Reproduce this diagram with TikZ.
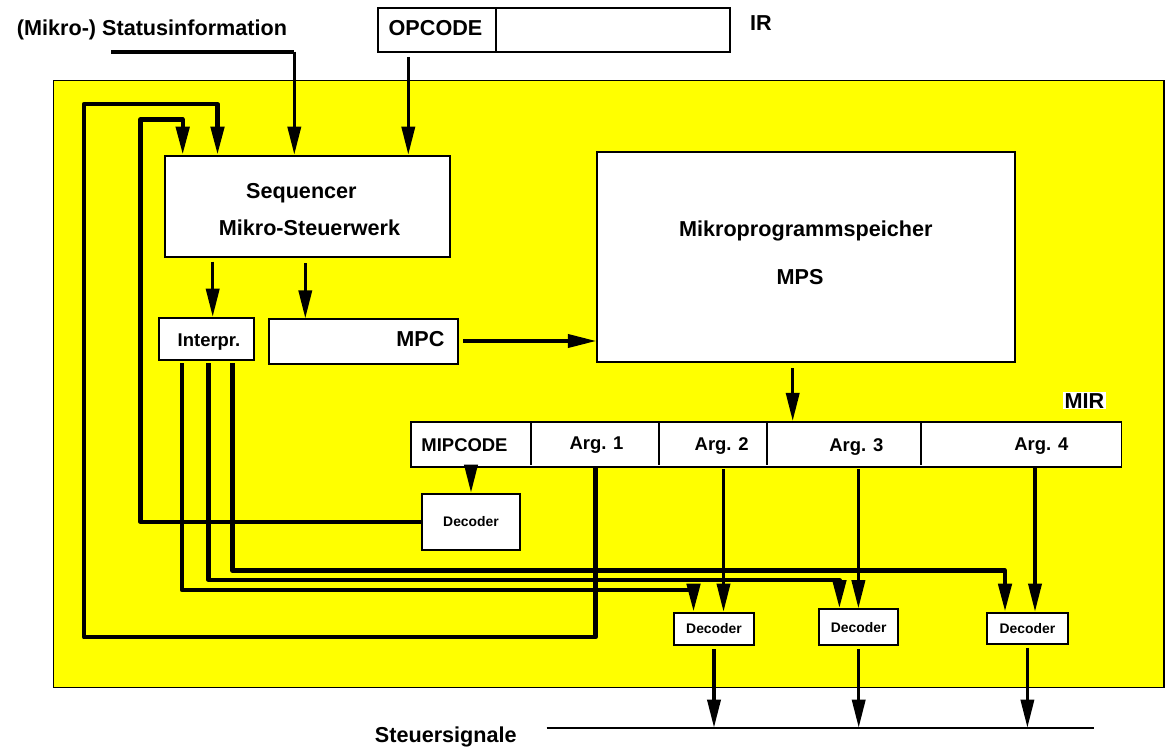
\documentclass[tikz,border=0pt]{standalone}
\usepackage{fontspec}
\setmainfont{Liberation Sans}
\usetikzlibrary{arrows.meta}
\definecolor{cpuyellow}{RGB}{255,255,0}

\tikzset{
  box/.style={draw, line width=1.1pt, fill=white, inner sep=0pt},
  txt/.style={anchor=base, inner sep=0pt, font=\fontsize{12.3}{14}\selectfont\bfseries},
  mid/.style={anchor=base, inner sep=0pt, font=\fontsize{10.5}{12}\selectfont\bfseries},
  dec/.style={box, font=\fontsize{7.9}{9}\selectfont\bfseries},
  arr/.style={line width=1.8pt, -{Triangle[length=16pt,width=7.5pt]}},
  bus/.style={line width=2.4pt, line join=round},
  busarr/.style={bus, -{Triangle[length=16pt,width=7.5pt]}}
}

\begin{document}
\begin{tikzpicture}[x=0.02cm, y=-0.02cm]
\useasboundingbox (0,0) rectangle (1173,750);
\draw[fill=cpuyellow, line width=1.1pt] (53.5,80.5) rectangle (1164,687.5);

\node[box, minimum width=7.04cm, minimum height=0.87cm] (ir) at (554,30) {};
\draw[line width=1.1pt] (496,8) -- (496,51.7);
\node[txt] (opcode) at (435.5,35.5) {OPCODE};
\node[txt] (irlbl) at (761,31) {IR};
\node[txt] (stat) at (152,36) {(Mikro-) Statusinformation};

\node[box, minimum width=5.71cm, minimum height=2.02cm] (seq) at (307.3,206.2) {};
\node[txt] (seqlbl) at (301.4,198.3) {Sequencer};
\node[txt] (mswlbl) at (309.5,235) {Mikro-Steuerwerk};

\node[box, minimum width=1.906cm, minimum height=0.846cm] (interp) at (206.4,338.9) {};
\node[mid] (interplbl) at (209,346.7) {Interpr.};
\node[box, minimum width=3.78cm, minimum height=0.894cm] (mpc) at (363.8,341.7) {};
\node[txt] (mpclbl) at (420.4,346) {MPC};

\node[box, minimum width=8.36cm, minimum height=4.2cm] (mps) at (806,256.7) {};
\node[txt] (mpslbl) at (805.8,236.7) {Mikroprogrammspeicher};
\node[txt] (mpsabbr) at (800,284.3) {MPS};

\node[box, minimum width=14.21cm, minimum height=0.894cm] (mir) at (766.3,444.3) {};
\foreach \d in {530.7,659,767.3,920.9}
  \draw[line width=1.1pt] (\d,422) -- (\d,465);
\node[txt, fill=white, inner sep=0.8pt] (mirlbl) at (1084.5,408) {MIR};
\node[mid] (mipcode) at (464.5,451) {MIPCODE};
\node[mid] (arg1) at (596.5,449.3) {Arg. 1};
\node[mid] (arg2) at (721.7,450) {Arg. 2};
\node[mid] (arg3) at (856.3,451.7) {Arg. 3};
\node[mid] (arg4) at (1041.3,450) {Arg. 4};

\node[dec, minimum width=1.97cm, minimum height=1.126cm] (dec0) at (471,521.8) {Decoder};
\node[dec, minimum width=1.606cm, minimum height=0.652cm] (dec1) at (714,629) {Decoder};
\node[dec, minimum width=1.578cm, minimum height=0.72cm] (dec2) at (858.7,627.3) {Decoder};
\node[dec, minimum width=1.63cm, minimum height=0.626cm] (dec3) at (1027.4,628.3) {Decoder};

\coordinate (statin) at (111,51.7);
\coordinate (statdn) at (294.3,51.7);
\draw[bus] (statin) -- (statdn);
\draw[arr] (statdn) -- (statdn |- seq.north);
\coordinate (opin) at (408.3,57);
\draw[arr] (opin) -- (opin |- seq.north);

\coordinate (s1) at (212.7,261.7);
\coordinate (s2) at (305.3,263.3);
\draw[arr] (s1) -- (s1 |- interp.north);
\draw[arr] (s2) -- (s2 |- mpc.north);
\coordinate (m1) at (463,341);
\draw[arr] (m1) -- (m1 -| mps.west);
\coordinate (m2) at (792.7,368.3);
\draw[arr] (m2) -- (m2 |- mir.north);

\coordinate (f0) at (471,470);
\coordinate (f2) at (723.5,469.3);
\coordinate (f3) at (858.4,469.3);
\coordinate (f4) at (1035,468.3);
\draw[arr] (f0) -- (f0 |- dec0.north);
\draw[arr] (f2) -- (f2 |- dec1.north);
\draw[arr] (f3) -- (f3 |- dec2.north);
\draw[arr] (f4) -- (f4 |- dec3.north);

\coordinate (f1) at (595.5,467);
\coordinate (lp1) at (84,637.3);
\coordinate (tp1) at (217.5,104);
\draw[busarr] (f1) |- (lp1) |- (tp1) -- (tp1 |- seq.north);
\coordinate (lp2) at (140.4,119.5);
\coordinate (tp2) at (182.7,119.5);
\draw[busarr] (dec0.west) -| (lp2) -- (tp2) -- (tp2 |- seq.north);

\coordinate (i1) at (182,363);
\coordinate (i2) at (208.5,363);
\coordinate (i3) at (232.5,363);
\coordinate (c1) at (693.5,590);
\coordinate (c2) at (839.4,580);
\coordinate (c3) at (1005,570.5);
\draw[busarr] (i1) |- (c1) -- (c1 |- dec1.north);
\draw[busarr] (i2) |- (c2) -- (c2 |- dec2.north);
\draw[busarr] (i3) |- (c3) -- (c3 |- dec3.north);

\coordinate (sigL) at (546.7,727.7);
\coordinate (sigR) at (1094,727.7);
\draw[line width=1.1pt] (sigL) -- (sigR);
\draw[arr, shorten <=0.06cm] (dec1.south) -- (dec1.south |- sigL);
\draw[arr, shorten <=0.06cm] (dec2.south) -- (dec2.south |- sigL);
\draw[arr, shorten <=0.06cm] (dec3.south) -- (dec3.south |- sigL);
\node[txt] (sig) at (445.8,742.7) {Steuersignale};
\end{tikzpicture}
\end{document}
